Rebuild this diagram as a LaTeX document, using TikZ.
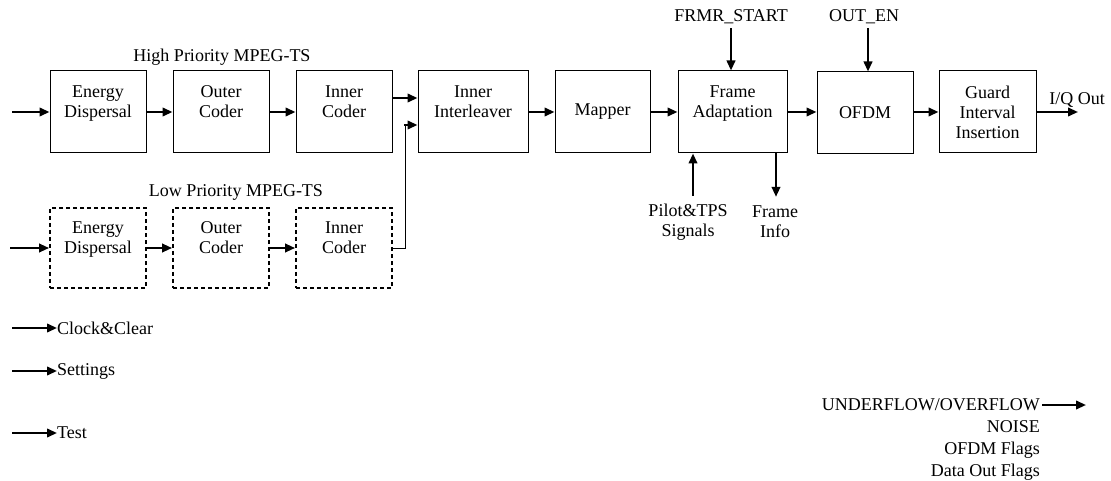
\documentclass[tikz,border=0pt]{standalone}
\usepackage{fontspec}
\setmainfont{Liberation Serif}
\usetikzlibrary{arrows.meta,calc}
\begin{document}
\begin{tikzpicture}[x=1pt,y=-1pt,
  every node/.style={font=\fontsize{18}{20}\selectfont},
  blk/.style={draw,line width=1pt,align=center,inner sep=0pt,minimum height=82pt},
  dblk/.style={draw,line width=1.8pt,dash pattern=on 4pt off 3pt,align=center,inner sep=0pt,minimum width=96pt,minimum height=80pt},
  arr/.style={line width=2.2pt,-{Triangle[length=10pt,width=8.5pt]}},
  txt/.style={inner sep=0pt,align=center}]
\useasboundingbox (0,0) rectangle (1111,481);
% high priority chain
\node[blk,minimum width=96pt] (hp1) at (98,112) {Energy\\Dispersal\\~};
\node[blk,minimum width=96pt] (hp2) at (221,112) {Outer\\Coder\\~};
\node[blk,minimum width=96pt] (hp3) at (344,112) {Inner\\Coder\\~};
\node[txt] (hpl) at (222,57) {High Priority MPEG-TS};
% low priority chain
\node[dblk] (lp1) at (98,248) {Energy\\Dispersal\\~};
\node[dblk] (lp2) at (221,248) {Outer\\Coder\\~};
\node[dblk] (lp3) at (344,248) {Inner\\Coder\\~};
\node[txt] (lpl) at (236,192) {Low Priority MPEG-TS};
% main chain
\node[blk,minimum width=110pt] (ii) at (473,112) {Inner\\Interleaver\\~};
\node[blk,minimum width=95pt] (map) at (602.5,112) {Mapper};
\node[blk,minimum width=109pt] (fa) at (732.5,112) {Frame\\Adaptation\\~};
\node[blk,minimum width=96pt] (ofdm) at (865,113) {OFDM};
\node[blk,minimum width=97pt] (gi) at (987.5,112) {Guard\\Interval\\Insertion};
% inputs
\coordinate (in1) at (12,112);
\coordinate (in2) at (10,248);
\draw[arr] (in1) -- (hp1.west);
\draw[arr] (in2) -- (lp1.west);
\draw[arr] (hp1) -- (hp2);
\draw[arr] (hp2) -- (hp3);
\draw[arr] (lp1) -- (lp2);
\draw[arr] (lp2) -- (lp3);
\draw[arr] (hp3.east |- 0,98) -- (ii.west |- 0,98);
\coordinate (j) at (405,125);
\draw[line width=1pt] (lp3.east) -| (j);
\draw[arr] ([xshift=-1pt]j) -- (ii.west |- j);
\draw[arr] (ii) -- (map);
\draw[arr] (map) -- (fa);
\draw[arr] (fa) -- (ofdm.west |- fa);
\draw[arr] (ofdm.east |- gi) -- (gi);
% top signals
\node[txt] (frmr) at (731,17) {FRMR\_START};
\node[txt] (oe) at (864,17) {OUT\_EN};
\draw[arr] ([yshift=-4pt]frmr.south) -- (frmr.south |- fa.north);
\draw[arr] ([xshift=4pt,yshift=-4pt]oe.south) -- ([xshift=4pt]oe.south |- ofdm.north);
% bottom signals of frame adaptation
\node[txt] (pilot) at (688,222) {Pilot\&TPS\\Signals};
\node[txt] (finfo) at (775,222) {Frame\\Info};
\draw[arr] ([xshift=5pt,yshift=8pt]pilot.north) -- ([xshift=5pt]pilot.north |- fa.south);
\draw[arr] ([xshift=1pt]finfo.north |- fa.south) -- ([xshift=1pt,yshift=9pt]finfo.north);
% output
\node[txt] (iq) at (1077,100) {I/Q Out};
\coordinate (iqe) at (1078,112);
\draw[arr] (gi.east) -- (iqe);
% legend
\coordinate (c1) at (12,328);
\coordinate (c2) at (12,371);
\coordinate (c3) at (12,433);
\node[txt,anchor=west] (clk) at (57,328) {Clock\&Clear};
\node[txt,anchor=west] (set) at (57,371) {Settings};
\node[txt,anchor=west] (tst) at (57,433) {Test};
\draw[arr] (c1) -- (clk.west);
\draw[arr] (c2) -- (set.west);
\draw[arr] (c3) -- (tst.west);
\node[txt,anchor=east] (uf) at (1040,405) {UNDERFLOW/OVERFLOW};
\node[txt,anchor=east] (ns) at (1040,427) {NOISE};
\node[txt,anchor=east] (of) at (1040,450) {OFDM Flags};
\node[txt,anchor=east] (dof) at (1040,472) {Data Out Flags};
\coordinate (ufe) at (1086,405);
\draw[arr] ([xshift=2pt]uf.east) -- (ufe);
\end{tikzpicture}
\end{document}
